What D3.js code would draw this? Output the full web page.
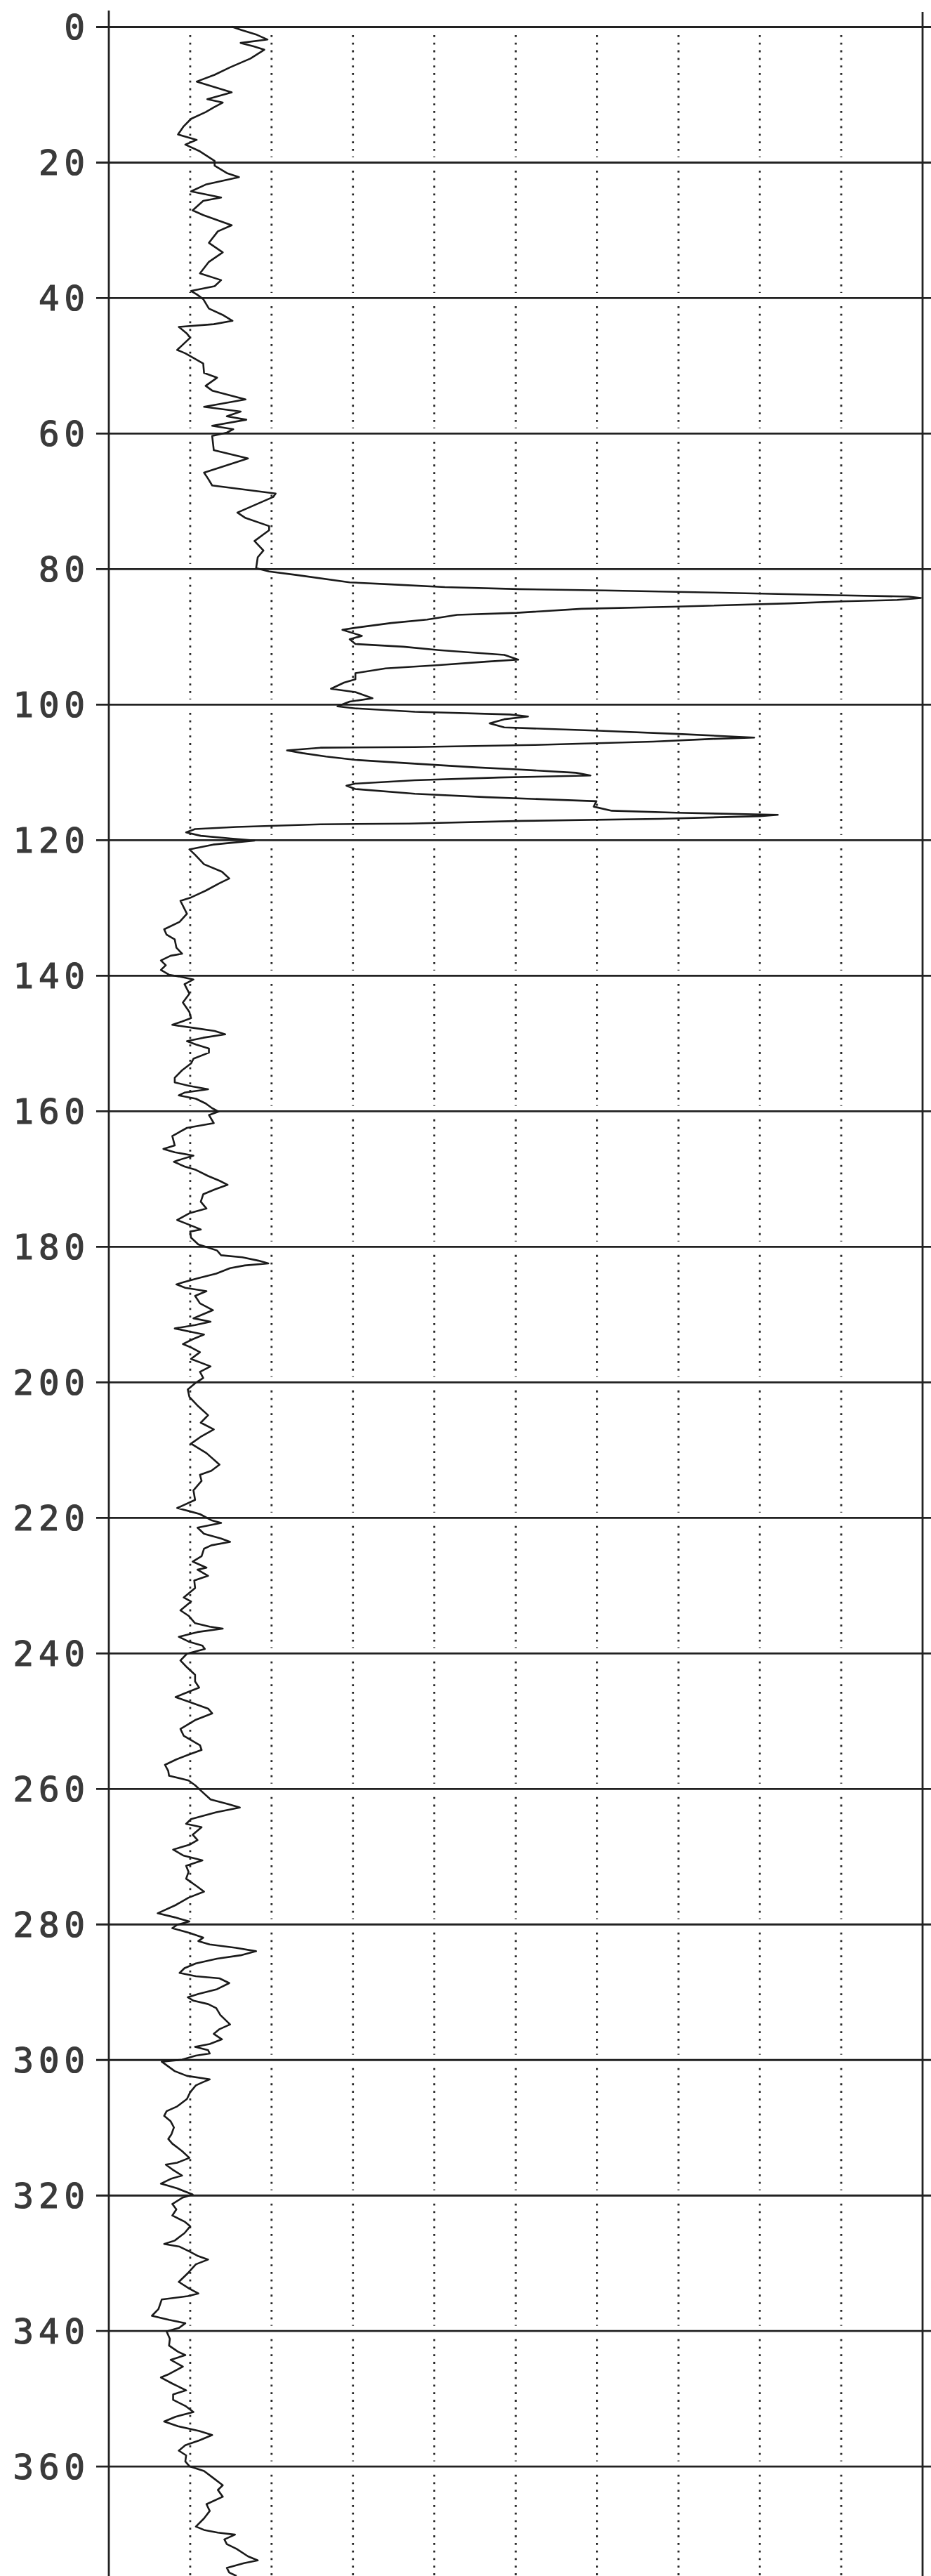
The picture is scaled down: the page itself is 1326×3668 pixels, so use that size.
<!DOCTYPE html>
<html>
<head>
<meta charset="utf-8">
<script src="https://cdn.jsdelivr.net/npm/d3@7"></script>
<style>
  html, body { margin: 0; padding: 0; background: #ffffff; }
  svg { display: block; }
</style>
</head>
<body>
<div id="chart"></div>
<script>
// ---- Data ----
const depthTicks = [0, 20, 40, 60, 80, 100, 120, 140, 160, 180, 200, 220, 240, 260, 280, 300, 320, 340, 360];
const valueTicks = [10, 20, 30, 40, 50, 60, 70, 80, 90];

const depths = [
  0, 0.5, 1.2, 1.9, 2.4, 2.9, 3.4, 4.7, 6.0, 7.1, 8.1, 8.8, 9.7, 10.7, 11.2, 11.9, 12.6, 13.6, 14.7, 15.9,
  16.7, 17.4, 18.4, 19.8, 20.5, 21.6, 22.2, 23.3, 24.3, 25.2, 25.7, 27.1, 27.8, 29.3, 30.2, 31.9, 33.3, 34.7, 36.4, 37.4,
  38.3, 39.0, 39.5, 40.2, 41.6, 42.6, 43.4, 43.9, 44.3, 45.3, 45.9, 47.7, 48.2, 49.7, 51.1, 51.8, 53.0, 53.7, 55.0, 56.1,
  56.8, 57.5, 58.0, 58.9, 59.4, 59.9, 60.4, 62.5, 63.7, 65.8, 66.7, 67.7, 68.9, 69.4, 71.7, 72.5, 73.7, 74.3, 75.9, 77.3,
  78.3, 79.9, 80.4, 80.9, 82.0, 82.3, 82.7, 83.0, 83.2, 83.5, 83.9, 84.1, 84.3, 84.6, 84.8, 85.1, 85.6, 85.9, 86.5, 86.8,
  87.5, 88.0, 88.7, 89.0, 89.9, 90.4, 91.1, 91.5, 92.0, 92.7, 93.4, 93.7, 94.2, 94.7, 95.4, 96.3, 96.8, 97.7, 98.2, 99.1,
  99.6, 100.3, 100.6, 101.1, 101.5, 101.8, 102.2, 102.8, 103.4, 103.9, 104.4, 104.9, 105.1, 105.5, 106.0, 106.3, 106.4, 106.8, 107.2, 107.7,
  108.2, 108.7, 109.3, 109.6, 110.1, 110.5, 110.8, 111.2, 111.7, 112.0, 112.5, 113.2, 113.7, 114.3, 115.1, 115.7, 116.0, 116.3, 116.5, 116.9,
  117.2, 117.6, 117.7, 118.1, 118.4, 118.9, 119.4, 119.8, 120.1, 120.7, 121.4, 122.2, 123.6, 124.7, 125.7, 126.4, 127.5, 128.5, 129.0, 130.9,
  132.1, 133.2, 134.0, 134.7, 135.9, 136.8, 137.1, 137.8, 138.5, 139.2, 139.9, 140.2, 140.6, 141.3, 142.7, 144.0, 145.4, 146.3, 146.8, 147.3,
  147.8, 148.2, 148.7, 149.2, 149.7, 150.2, 150.8, 151.4, 152.3, 153.0, 154.0, 155.1, 155.8, 156.3, 156.8, 157.3, 157.7, 158.2, 158.9, 159.6,
  160.1, 160.6, 161.8, 162.5, 163.7, 165.1, 165.6, 166.1, 166.6, 167.1, 167.5, 168.2, 168.7, 169.6, 170.3, 170.9, 171.6, 172.3, 173.4, 174.4,
  175.1, 176.1, 177.0, 177.5, 177.8, 178.7, 179.7, 180.2, 180.6, 181.3, 181.6, 182.1, 182.5, 182.8, 183.2, 184.0, 184.7, 185.3, 185.6, 186.1,
  186.6, 187.3, 188.4, 189.4, 190.1, 190.6, 191.1, 191.6, 192.1, 192.5, 193.0, 193.7, 194.4, 194.9, 195.6, 196.6, 197.7, 198.5, 199.4, 200.1,
  201.1, 202.2, 203.6, 204.9, 206.0, 207.0, 208.0, 209.1, 210.5, 212.2, 213.1, 213.7, 214.6, 216.0, 217.4, 218.6, 219.1, 219.5, 220.4, 220.8,
  221.5, 222.4, 223.1, 223.6, 224.1, 224.6, 225.7, 226.5, 227.4, 227.7, 228.6, 229.3, 230.4, 231.8, 232.4, 233.7, 234.5, 235.6, 236.1, 236.4,
  236.9, 237.6, 238.3, 238.9, 239.4, 240.1, 241.1, 242.1, 243.2, 244.2, 245.1, 246.0, 246.5, 247.3, 248.2, 248.9, 249.9, 251.2, 252.2, 253.6,
  254.3, 255.0, 255.7, 256.5, 257.4, 258.1, 258.8, 259.5, 260.4, 261.6, 262.3, 262.8, 263.5, 264.5, 265.2, 265.7, 266.8, 267.6, 268.3, 269.0,
  269.9, 270.6, 271.4, 272.3, 273.3, 274.4, 275.2, 276.1, 277.2, 278.4, 279.0, 279.6, 280.1, 280.6, 281.3, 282.0, 282.5, 283.0, 283.5, 284.0,
  284.6, 285.1, 285.8, 286.5, 287.2, 287.7, 288.0, 288.7, 289.6, 290.3, 290.8, 291.3, 291.8, 292.4, 293.4, 294.8, 295.5, 296.2, 297.0, 297.7,
  298.1, 298.6, 299.1, 299.4, 300.0, 300.3, 301.0, 301.7, 302.4, 302.9, 303.3, 303.8, 304.8, 305.8, 306.9, 307.6, 308.3, 309.1, 310.0, 311.0,
  311.7, 312.4, 313.5, 314.5, 315.2, 315.5, 316.2, 317.1, 317.6, 318.3, 319.0, 319.9, 320.4, 321.3, 322.1, 323.0, 323.9, 324.6, 325.6, 326.7,
  327.2, 327.6, 328.3, 329.0, 329.5, 330.2, 331.4, 332.8, 333.8, 334.5, 334.9, 335.4, 336.8, 337.8, 338.4, 338.9, 339.6, 340.1, 341.2, 342.2,
  343.1, 343.6, 344.3, 345.3, 346.4, 346.9, 347.8, 348.8, 349.4, 350.2, 351.1, 352.0, 352.7, 353.4, 354.1, 354.8, 355.4, 356.2, 356.9, 357.7,
  358.4, 359.3, 360.0, 360.7, 361.7, 362.8, 363.5, 364.5, 365.6, 366.6, 367.7, 368.9, 369.4, 369.8, 370.1, 370.8, 371.5, 372.2, 373.3, 373.9,
  374.3, 375.0, 375.7, 376.2
];

const values = [
  15.1, 16.3, 18.2, 19.5, 16.2, 17.8, 19.1, 17.4, 14.9, 13.0, 10.8, 12.7, 15.1, 12.1, 14.0, 12.9, 11.9, 10.1, 9.2, 8.5,
  10.8, 9.4, 11.2, 13.0, 13.0, 14.5, 16.0, 11.9, 10.1, 13.8, 11.6, 10.3, 11.6, 15.1, 13.4, 12.3, 14.0, 12.3, 11.2, 13.8,
  13.0, 10.1, 10.8, 11.6, 12.3, 14.1, 15.2, 12.9, 8.6, 9.6, 10.0, 8.4, 9.4, 11.6, 11.7, 13.3, 11.9, 12.7, 16.8, 11.7,
  16.2, 14.5, 16.9, 12.7, 15.3, 14.5, 12.7, 12.9, 17.1, 11.7, 12.2, 12.7, 20.5, 20.2, 15.8, 16.8, 19.7, 19.7, 17.9, 19.0,
  18.3, 18.1, 19.7, 23.0, 29.6, 34.7, 41.3, 50.4, 61.0, 74.2, 89.2, 98.3, 99.8, 96.9, 90.3, 83.7, 69.1, 58.1, 50.1, 42.8,
  39.1, 34.7, 30.3, 28.7, 31.1, 29.6, 30.3, 36.2, 40.6, 48.6, 50.3, 46.4, 40.6, 34.0, 30.3, 30.3, 28.9, 27.3, 30.3, 32.4,
  29.6, 28.1, 30.3, 37.6, 49.3, 51.5, 48.6, 46.8, 48.6, 60.3, 70.5, 79.3, 74.2, 66.9, 52.3, 37.6, 26.0, 21.9, 23.8, 26.7,
  30.3, 36.9, 45.0, 50.1, 57.4, 59.2, 47.9, 37.6, 30.3, 29.2, 30.3, 37.6, 46.4, 59.9, 59.6, 61.8, 69.8, 82.2, 80.0, 67.6,
  50.8, 36.9, 26.0, 15.7, 10.6, 9.5, 11.3, 15.0, 17.9, 12.8, 9.9, 10.6, 11.7, 13.9, 14.8, 13.6, 11.9, 10.1, 8.8, 9.6,
  8.7, 6.8, 7.1, 8.1, 8.3, 9.0, 7.6, 6.4, 7.0, 6.4, 7.4, 8.8, 10.4, 9.3, 9.9, 9.1, 9.9, 10.1, 9.0, 7.8,
  10.7, 13.0, 14.3, 11.6, 9.6, 10.7, 12.3, 12.3, 10.4, 10.1, 9.0, 8.1, 8.1, 9.9, 12.2, 9.3, 8.6, 10.7, 11.9, 12.7,
  13.5, 12.3, 12.9, 9.6, 7.8, 8.1, 6.7, 8.1, 10.4, 9.0, 8.0, 9.3, 10.7, 12.2, 13.6, 14.6, 13.0, 11.6, 11.3, 12.0,
  9.9, 8.4, 10.3, 11.3, 10.0, 10.1, 11.0, 12.3, 13.3, 13.8, 16.4, 18.4, 19.6, 16.7, 14.9, 13.2, 10.9, 9.1, 8.3, 9.4,
  12.0, 10.6, 11.2, 12.8, 11.4, 10.4, 12.5, 10.6, 8.1, 9.7, 11.7, 10.3, 9.1, 10.1, 11.2, 10.1, 12.5, 11.2, 11.6, 10.7,
  9.7, 9.9, 11.0, 12.2, 11.3, 12.9, 11.4, 10.1, 12.0, 13.6, 12.6, 11.2, 11.4, 10.4, 10.6, 8.4, 10.0, 11.2, 12.6, 13.8,
  10.9, 11.7, 13.8, 14.9, 12.6, 11.7, 11.4, 10.3, 12.0, 10.9, 12.2, 10.5, 10.6, 9.2, 10.1, 8.8, 9.8, 10.6, 12.4, 14.0,
  10.9, 8.6, 9.8, 11.5, 11.8, 9.6, 8.8, 9.6, 10.6, 10.6, 11.1, 9.2, 8.2, 10.1, 12.2, 12.7, 10.6, 8.8, 9.2, 11.2,
  11.4, 9.8, 8.3, 6.9, 7.3, 7.4, 9.8, 10.6, 11.4, 12.5, 14.7, 16.1, 13.2, 10.1, 9.5, 11.4, 10.3, 10.9, 9.9, 7.9,
  9.2, 11.5, 9.5, 9.8, 9.5, 10.8, 11.7, 9.8, 8.2, 6.0, 8.1, 9.9, 8.4, 7.8, 9.9, 11.6, 11.0, 12.4, 15.6, 18.1,
  16.2, 13.3, 10.7, 9.3, 8.7, 10.7, 13.6, 14.8, 13.3, 11.0, 9.7, 10.4, 12.2, 13.2, 13.7, 14.9, 13.6, 12.9, 13.9, 12.4,
  10.6, 12.2, 12.4, 10.7, 9.0, 6.5, 7.3, 8.1, 9.6, 12.4, 11.6, 10.7, 10.0, 9.6, 8.4, 7.1, 6.8, 7.6, 8.0, 7.7,
  7.3, 7.8, 9.0, 9.9, 8.4, 7.0, 7.8, 9.0, 7.6, 6.4, 8.4, 10.3, 9.0, 7.8, 8.3, 7.8, 9.3, 10.0, 9.3, 8.1,
  6.8, 8.7, 9.9, 11.0, 12.2, 10.7, 9.8, 8.6, 9.9, 11.0, 9.7, 6.5, 6.1, 5.3, 7.4, 9.4, 8.6, 7.1, 7.5, 7.4,
  8.5, 9.4, 7.6, 9.1, 7.4, 6.4, 7.8, 9.5, 7.9, 7.9, 9.4, 10.4, 8.2, 6.8, 8.5, 11.1, 12.7, 11.1, 9.4, 8.6,
  9.5, 9.4, 9.9, 11.7, 12.8, 14.0, 13.4, 14.0, 12.0, 12.4, 11.7, 10.7, 11.7, 13.4, 15.5, 14.2, 14.5, 15.7, 17.1, 18.3,
  16.6, 14.5, 14.8, 15.7
];

// ---- Layout ----
const W = 1326, H = 3668;
const svg = d3.select('#chart').append('svg')
  .attr('width', W).attr('height', H)
  .attr('viewBox', `0 0 ${W} ${H}`);

svg.append('rect').attr('width', W).attr('height', H).attr('fill', '#ffffff');

const x = d3.scaleLinear().domain([0, 100]).range([155, 1314]);
const y = d3.scaleLinear().domain([0, 360]).range([38, 3511.7]);

const ink = '#222';

// dotted vertical grid lines, one segment per band between solid lines
const bandEdges = depthTicks.map(d => y(d)).concat([H + 20]);
const dotted = svg.append('g').attr('class', 'dotted');
valueTicks.forEach(v => {
  for (let i = 0; i < bandEdges.length - 1; i++) {
    dotted.append('line')
      .attr('x1', x(v)).attr('x2', x(v))
      .attr('y1', bandEdges[i] + 12).attr('y2', bandEdges[i + 1] - 7)
      .attr('stroke', '#2a2a2a')
      .attr('stroke-width', 2.8)
      .attr('stroke-dasharray', '2.8 8.0');
  }
});

// horizontal grid lines + depth labels via axis
const yAxis = d3.axisLeft(y)
  .tickValues(depthTicks)
  .tickSize(-(W - x(0)))
  .tickSizeOuter(0)
  .tickPadding(27)
  .tickFormat(d => String(d));

const gAxis = svg.append('g')
  .attr('transform', `translate(${x(0)},0)`)
  .call(yAxis);
gAxis.select('.domain').remove();
gAxis.selectAll('.tick line')
  .attr('x1', -18)
  .attr('stroke', ink)
  .attr('stroke-width', 2.8);
gAxis.selectAll('.tick text')
  .attr('fill', '#3a3a3a')
  .attr('stroke', '#3a3a3a')
  .attr('stroke-width', 1.2)
  .attr('font-family', '"DejaVu Sans Mono", "Liberation Mono", monospace')
  .attr('font-size', 49)
  .attr('letter-spacing', 7)
  .attr('dy', '0.36em');

// left and right frame lines
svg.append('line')
  .attr('x1', x(0)).attr('x2', x(0))
  .attr('y1', 15).attr('y2', H)
  .attr('stroke', ink).attr('stroke-width', 2.8);
svg.append('line')
  .attr('x1', x(100)).attr('x2', x(100))
  .attr('y1', 17).attr('y2', H)
  .attr('stroke', ink).attr('stroke-width', 2.8);

// trace
const pts = depths.map((d, i) => [values[i], d]);
const line = d3.line()
  .x(p => x(p[0]))
  .y(p => y(p[1]));

svg.append('path')
  .datum(pts)
  .attr('d', line)
  .attr('fill', 'none')
  .attr('stroke', '#1a1a1a')
  .attr('stroke-width', 2.6)
  .attr('stroke-linejoin', 'round');
</script>
</body>
</html>
